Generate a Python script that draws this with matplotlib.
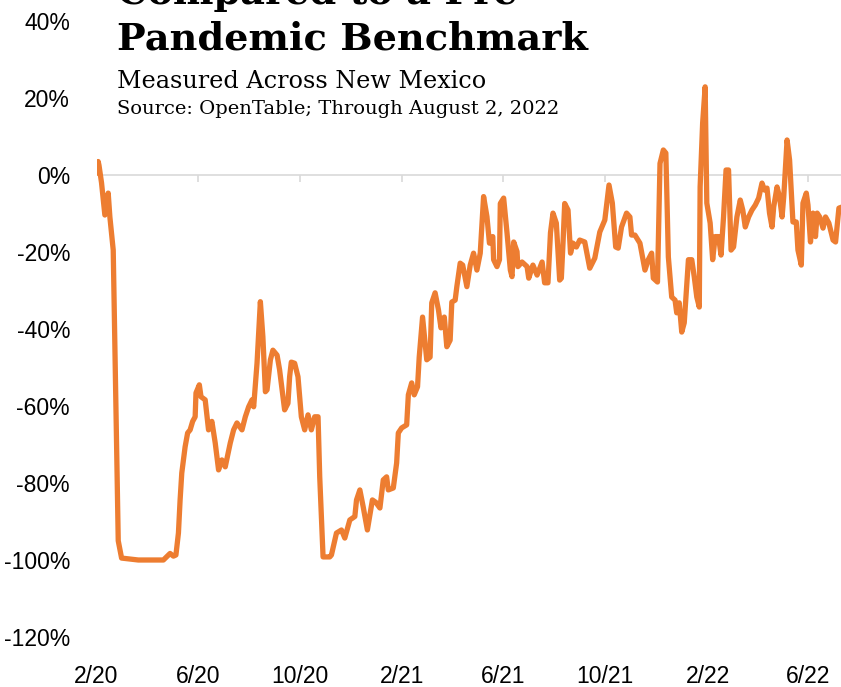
import matplotlib
matplotlib.use('Agg')
import matplotlib.pyplot as plt
import pandas as pd

# days since first observation (Feb 18, 2020) and % change vs. 2019 benchmark
start = pd.Timestamp('2020-02-18')
end = pd.Timestamp('2022-08-02')

day_offsets = [
    0, 1, 2, 3, 6, 10, 14, 16, 20, 22, 24, 26, 30, 50, 80, 88, 92, 95, 98, 100,
    102, 106, 109, 112, 115, 118, 119, 123, 125, 130, 134, 138, 142, 146, 150,
    154, 160, 164, 168, 174, 178, 182, 186, 188, 192, 196, 199, 202, 204, 208,
    211, 216, 219, 223, 225, 229, 231, 233, 237, 241, 245, 249, 253, 257, 261,
    265, 267, 271, 279, 281, 287, 293, 297, 303, 309, 311, 315, 319, 324, 330,
    334, 339, 343, 347, 349, 355, 359, 361, 365, 371, 373, 377, 380, 384, 386,
    390, 395, 399, 401, 405, 409, 412, 416, 419, 423, 425, 429, 431, 435, 438,
    443, 447, 451, 455, 459, 463, 467, 470, 474, 475, 479, 482, 483, 487, 491,
    495, 497, 499, 503, 504, 509, 515, 517, 522, 527, 533, 536, 540, 543, 546,
    550, 554, 556, 558, 560, 564, 567, 570, 574, 578, 584, 590, 596, 602, 608,
    613, 617, 621, 624, 628, 634, 638, 640, 644, 650, 656, 660, 664, 666, 671,
    674, 678, 681, 684, 688, 692, 694, 697, 700, 703, 708, 712, 715, 718, 721,
    722, 725, 728, 730, 734, 737, 740, 744, 747, 750, 753, 756, 759, 762, 766,
    770, 773, 776, 780, 784, 788, 792, 796, 799, 802, 805, 808, 810, 814, 817,
    820, 822, 826, 829, 833, 837, 839, 843, 845, 849, 851, 854, 857, 860, 862,
    865, 869, 872, 876, 881, 884, 888, 896,
]
pct_change = [
    3.0, 0.5, 3.5, 2.5, -2, -10.4, -4.7, -10.9, -19.5, -45, -71, -95, -99.5, -100, -100, -98.3, -99, -98.7, -93, -84.4,
    -77.4, -70.6, -67, -66.2, -64, -62.8, -56.6, -54.5, -57.6, -58.4, -66.2, -64, -69.6, -76.6, -74,
    -75.8, -69.6, -66.2, -64.4, -66.2, -62.8, -60.2, -58.4, -60.2, -48.9, -32.9, -42, -56.3, -55.8, -48,
    -45.5, -46.8, -50.6, -57.6, -61, -59.3, -52.4, -48.6, -48.9, -52.4, -62.8, -66.2, -62.3, -66.2, -62.8,
    -62.8, -78.4, -99.2, -99.2, -98.7, -93, -92.2, -94.3, -89.6, -88.7, -84.4, -81.8, -86.2, -92.2, -84.4,
    -85, -86.5, -79.2, -78.4, -81.8, -81.3, -74.8, -67, -65.7, -64.9, -57.1, -54, -57.1, -55, -47.3,
    -36.9, -48, -47.3, -33.2, -30.6, -35, -39.7, -36.9, -44.6, -42.9, -33, -32.5, -29, -22.9, -23.4,
    -29, -23.4, -20.3, -24.7, -20.3, -5.6, -10.8, -17.7, -16, -22, -23.8, -22, -7.4, -6, -15,
    -24.7, -26.4, -17.4, -19.9, -23.8, -22.6, -23.8, -26.8, -23.4, -26, -22.6, -28, -28, -15, -9.9,
    -12.5, -27.3, -26.8, -17.7, -7.4, -9.1, -20.3, -17.7, -18.7, -16.9, -17.4, -24.2, -21.6, -14.8, -11.7,
    -2.6, -7.3, -18.7, -19, -13.5, -9.9, -10.9, -15.6, -15.6, -17.7, -24.7, -22, -20.3, -26.8, -27.8,
    3, 6.5, 5.7, -21.3, -31.7, -32.5, -35.8, -33.2, -40.8, -38.4, -22, -22, -26.5, -31.7, -34.3,
    -3.1, 13.5, 22.9, -7.3, -12.5, -22, -16, -16, -20.8, -10.9, 1.3, 1.3, -19.5, -18.7, -10.9,
    -6.5, -9.1, -13.5, -10.9, -9.1, -7.8, -6, -2.1, -3.9, -3.4, -9.9, -13.5, -8.3, -3.1, -5.7,
    -10.9, -5.7, 9.1, 3.9, -12.2, -12.2, -19.5, -23.4, -7.3, -4.7, -7.8, -17.4, -9.9, -16, -9.9,
    -10.9, -13.8, -10.9, -12.5, -16.9, -17.4, -8.6, -8.0,
]

tick_dates = ['2020-02-18', '2020-06-18', '2020-10-18', '2021-02-18',
              '2021-06-18', '2021-10-18', '2022-02-18', '2022-06-18']
tick_labels = ['2/20', '6/20', '10/20', '2/21', '6/21', '10/21', '2/22', '6/22']
y_ticks = [-120, -100, -80, -60, -40, -20, 0, 20, 40]

dates = start + pd.to_timedelta(day_offsets, unit='D')
ticks = pd.to_datetime(tick_dates)

W, H = 841, 687
fig = plt.figure(figsize=(W / 100, H / 100), dpi=100)

# plot area: left edge at first data point, right edge just past the figure
ax = fig.add_axes([96.5 / W, (H - 637) / H, (845.6 - 96.5) / W, (637 - 21) / H])

ax.axhline(0, color='#d9d9d9', lw=1.2, zorder=1)
ax.vlines(ticks, -1.9, 0, color='#d9d9d9', lw=1.2, zorder=1)

ax.plot(dates, pct_change, color='#ED7D31', lw=3.8,
        solid_joinstyle='round', solid_capstyle='round', zorder=3)

ax.set_xlim(start, end)
ax.set_ylim(-120, 40)

tick_font = dict(family=['Liberation Sans', 'DejaVu Sans'], size=16.5, color='black')
ax.set_yticks(y_ticks)
ax.set_yticklabels([f'{v}%' for v in y_ticks], **tick_font)
ax.set_xticks(ticks)
ax.set_xticklabels(tick_labels, **tick_font)
ax.tick_params(axis='y', length=0, pad=19)
ax.tick_params(axis='x', length=0, pad=20)

for s in ax.spines.values():
    s.set_visible(False)

# the first title line is cut off at the top edge, as in the original
serif = ['DejaVu Serif']
x0 = 117 / W
fig.text(x0, (H - 4) / H, 'Compared to a Pre-', family=serif,
         weight='bold', size=27.5, va='baseline')
fig.text(x0, (H - 50) / H, 'Pandemic Benchmark', family=serif,
         weight='bold', size=27.5, va='baseline')
fig.text(x0, (H - 88) / H, 'Measured Across New Mexico', family=serif,
         size=17.2, va='baseline')
fig.text(x0, (H - 114) / H, 'Source: OpenTable; Through August 2, 2022',
         family=serif, size=14, va='baseline')

fig.savefig('out.png', dpi=100)
